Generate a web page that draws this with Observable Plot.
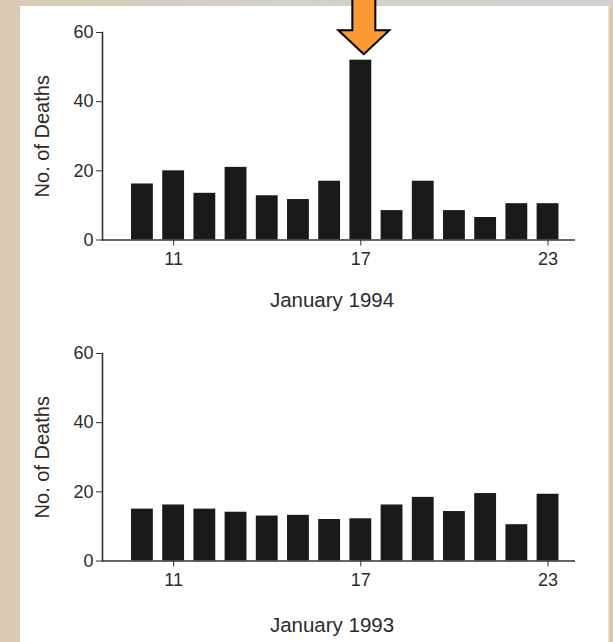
<!DOCTYPE html>
<html>
<head>
<meta charset="utf-8">
<script src="https://cdn.jsdelivr.net/npm/d3@7"></script>
<script src="https://cdn.jsdelivr.net/npm/@observablehq/plot@0.6"></script>
<style>
  html, body { margin: 0; padding: 0; }
  body { width: 613px; height: 642px; overflow: hidden; background: #dacab3; }
  #page { position: relative; width: 613px; height: 642px; }
  #topstrip { position: absolute; left: 0; top: 0; width: 613px; height: 6px;
    background: linear-gradient(to right, #dacab3, #d4d0ca 45%, #d2d0cd); }
  #panel { position: absolute; left: 20px; top: 6px; width: 588px; height: 636px; background: #fff;
    border-right: 1px solid #e4e4e4; }
  #charts { position: absolute; left: 0; top: 0; width: 613px; }
  #charts svg { display: block; }
</style>
</head>
<body>
<div id="page">
  <div id="topstrip"></div>
  <div id="panel"></div>
  <div id="charts"></div>
</div>
<script>
const days = [10, 11, 12, 13, 14, 15, 16, 17, 18, 19, 20, 21, 22, 23];
const deaths1994 = [16.2, 20, 13.5, 21, 12.8, 11.7, 17, 52, 8.5, 17, 8.5, 6.5, 10.5, 10.5];
const deaths1993 = [15, 16.2, 15, 14.1, 13, 13.2, 12, 12.2, 16.2, 18.4, 14.3, 19.5, 10.5, 19.3];
const xTicks = [11, 17, 23];
const yTicks = [0, 20, 40, 60];
const yLabel = "No. of Deaths";
const periodLabels = ["January 1994", "January 1993"];
const highlightDay = 17;

const ink = "#1c1a18";
const textInk = "#2b2b2b";
const font = "'Liberation Sans', Arial, Helvetica, sans-serif";

// block-arrow symbol, tip at the anchor point
const blockArrow = {
  draw(ctx) {
    ctx.moveTo(0, 0);
    ctx.lineTo(-25.5, -24);
    ctx.lineTo(-11.5, -24);
    ctx.lineTo(-11.5, -60);
    ctx.lineTo(11.5, -60);
    ctx.lineTo(11.5, -24);
    ctx.lineTo(25.5, -24);
    ctx.closePath();
  }
};

function chart(values, period, {height, marginTop, arrow, labelDy}) {
  const data = days.map((d, i) => ({day: d, value: values[i]}));
  const marks = [
    Plot.rectY(data, {x1: d => d.day - 0.35, x2: d => d.day + 0.35, y: "value", fill: ink}),
    Plot.ruleY([0], {stroke: "#333", strokeWidth: 1.6}),
    Plot.frame({anchor: "left", stroke: "#333", strokeWidth: 1.6}),
    Plot.axisY({ticks: yTicks, tickSize: 6, tickPadding: 3, label: null, stroke: "#333", fill: textInk}),
    Plot.axisX({ticks: xTicks, tickSize: 6, tickPadding: 6, label: null, stroke: "#333", fill: textInk, tickFormat: d => String(d)}),
    Plot.text([yLabel], {frameAnchor: "left", rotate: -90, dx: -60, textAnchor: "middle", fill: textInk, fontSize: 20}),
    Plot.text([period], {frameAnchor: "bottom", dy: labelDy, dx: -7, textAnchor: "middle", fill: textInk, fontSize: 20.5})
  ];
  if (arrow) {
    const peak = data.filter(d => d.day === highlightDay);
    marks.push(Plot.dot(peak, {x: "day", y: "value", dy: -6, dx: 3, symbol: blockArrow, r: 10,
      fill: "#f99a33", stroke: "#000", strokeWidth: 2, strokeLinejoin: "miter"}));
  }
  return Plot.plot({
    width: 613,
    height,
    marginLeft: 102,
    marginRight: 38,
    marginTop,
    marginBottom: height - marginTop - 207.5,
    style: {background: "transparent", fontFamily: font, fontSize: "18px", color: textInk, overflow: "visible"},
    x: {type: "linear", domain: [8.72, 23.88]},
    y: {domain: [0, 60]},
    marks
  });
}

const container = document.getElementById("charts");
container.append(chart(deaths1994, periodLabels[0], {height: 320, marginTop: 32, arrow: true, labelDy: 67}));
container.append(chart(deaths1993, periodLabels[1], {height: 322, marginTop: 33, arrow: false, labelDy: 71}));
</script>
</body>
</html>
